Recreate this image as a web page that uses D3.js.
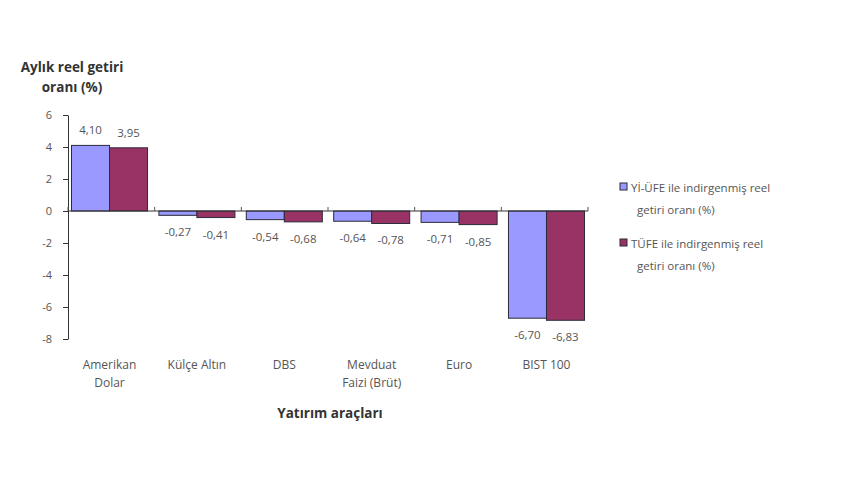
<!DOCTYPE html>
<html lang="tr">
<head>
<meta charset="UTF-8">
<title>Aylık reel getiri oranı</title>
<script src="https://cdn.jsdelivr.net/npm/d3@7"></script>
<style>
  body { margin: 0; background: #fff; }
  svg text { font-family: "Open Sans", "DejaVu Sans", sans-serif; fill: #555; }
</style>
</head>
<body>
<svg id="chart" width="860" height="480"></svg>
<script>
// categories (line breaks split with "|")
var categories = ["Amerikan|Dolar", "Külçe Altın", "DBS", "Mevduat|Faizi (Brüt)", "Euro", "BIST 100"];
var seriesNames = ["Yİ-ÜFE ile indirgenmiş reel|getiri oranı (%)", "TÜFE ile indirgenmiş reel|getiri oranı (%)"];
var yiUfe = [4.10, -0.27, -0.54, -0.64, -0.71, -6.70];
var tufe = [3.95, -0.41, -0.68, -0.78, -0.85, -6.83];
var yTicks = [6, 4, 2, 0, -2, -4, -6, -8];
var colors = ["#9999ff", "#993366"];

var svg = d3.select("#chart");
var plotLeft = 68, plotRight = 588, plotTop = 115, plotBottom = 339;

var x = d3.scaleBand()
    .domain(categories)
    .range([plotLeft, plotRight])
    .paddingInner(0.13)
    .paddingOuter(0.04);

var x1 = d3.scaleBand()
    .domain([0, 1])
    .range([0, x.bandwidth()]);

var y = d3.scaleLinear()
    .domain([-8, 6])
    .range([plotBottom, plotTop]);

// y axis
var yAxis = svg.append("g")
    .attr("transform", "translate(" + plotLeft + ",0)")
    .call(d3.axisLeft(y).tickValues(yTicks).tickSize(5).tickSizeOuter(0)
        .tickFormat(d => d));
yAxis.select(".domain").attr("stroke", "#333");
yAxis.selectAll(".tick line").attr("stroke", "#333");
yAxis.selectAll(".tick text").attr("font-size", 11).attr("x", -16).style("fill", "#555");

// bars
var rows = categories.map((c, i) => [yiUfe[i], tufe[i]]);
var groups = svg.selectAll(".grp")
    .data(rows)
    .enter().append("g")
    .attr("transform", (d, i) => "translate(" + x(categories[i]) + ",0)");

groups.selectAll("rect")
    .data(d => d)
    .enter().append("rect")
    .attr("x", (d, j) => x1(j))
    .attr("width", x1.bandwidth())
    .attr("y", d => y(Math.max(0, d)))
    .attr("height", d => Math.abs(y(d) - y(0)))
    .attr("fill", (d, j) => colors[j])
    .attr("stroke", "#2b2b3a")
    .attr("stroke-width", 1);

// value labels
groups.selectAll(".val")
    .data(d => d)
    .enter().append("text")
    .attr("x", (d, j) => x1(j) + x1.bandwidth() / 2)
    .attr("y", d => d >= 0 ? y(d) - 11 : y(d) + 21)
    .attr("text-anchor", "middle")
    .attr("font-size", 11.5)
    .text(d => d.toFixed(2).replace(".", ","));

// category axis at zero
svg.append("line")
    .attr("x1", plotLeft).attr("x2", plotRight)
    .attr("y1", y(0)).attr("y2", y(0))
    .attr("stroke", "#333");
svg.selectAll(".ctick")
    .data(d3.range(categories.length + 1))
    .enter().append("line")
    .attr("x1", i => plotLeft + i * (plotRight - plotLeft) / categories.length)
    .attr("x2", i => plotLeft + i * (plotRight - plotLeft) / categories.length)
    .attr("y1", y(0) - 4).attr("y2", y(0))
    .attr("stroke", "#555");

// category labels
svg.selectAll(".cat")
    .data(categories)
    .enter().append("text")
    .attr("text-anchor", "middle")
    .attr("font-size", 12)
    .attr("x", d => x(d) + x.bandwidth() / 2)
    .attr("y", 369)
    .each(function (d) {
        var parts = d.split("|");
        d3.select(this).selectAll("tspan")
            .data(parts)
            .enter().append("tspan")
            .attr("x", x(d) + x.bandwidth() / 2)
            .attr("dy", (p, k) => k === 0 ? 0 : 18)
            .text(p => p);
    });

// axis titles
svg.append("text")
    .attr("x", 330).attr("y", 418)
    .attr("text-anchor", "middle")
    .attr("font-size", 13.5).attr("font-weight", "bold")
    .style("fill", "#333")
    .text("Yatırım araçları");

var yTitle = svg.append("text")
    .attr("text-anchor", "middle")
    .attr("font-size", 13.5).attr("font-weight", "bold")
    .style("fill", "#333");
yTitle.append("tspan").attr("x", 72).attr("y", 72).text("Aylık reel getiri");
yTitle.append("tspan").attr("x", 72).attr("y", 92).text("oranı (%)");

// legend
var legend = svg.append("g");
var legY = [188, 244];
seriesNames.forEach(function (name, i) {
    legend.append("rect")
        .attr("x", 620).attr("y", legY[i] - 5)
        .attr("width", 7).attr("height", 7)
        .attr("fill", colors[i]).attr("stroke", "#2b2b3a");
    var t = legend.append("text").attr("font-size", 11.5);
    name.split("|").forEach(function (p, k) {
        t.append("tspan")
            .attr("x", k === 0 ? 631 : 637)
            .attr("y", legY[i] + 4 + k * 22)
            .text(p);
    });
});
</script>
</body>
</html>
